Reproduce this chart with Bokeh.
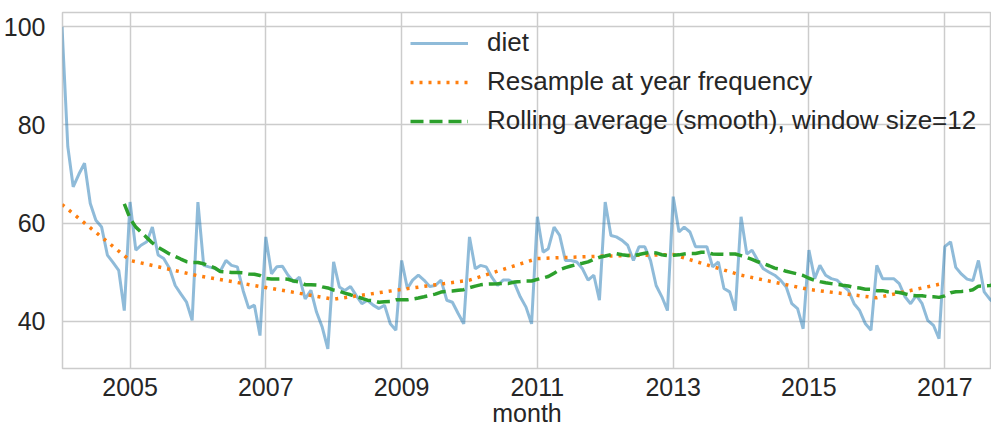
import pandas as pd
from bokeh.plotting import figure
from bokeh.models import Range1d, FixedTicker, DatetimeTickFormatter
from bokeh.embed import file_html
from bokeh.resources import INLINE

# ---- data (monthly Google Trends interest for "diet") ----
diet_2004 = [100, 75.6, 67.4, 70, 72.2, 64, 60.6, 59.2, 53.5, 52, 50.4, 42.2]
diet_2005 = [64.3, 54.5, 55.5, 56.2, 59.2, 53.5, 52.8, 50.8, 47.3, 45.6, 43.9, 40.2]
diet_2006 = [64.3, 51.4, 51.1, 50.8, 50.2, 52.4, 51.4, 51.1, 46.3, 42.7, 43.3, 37.1]
diet_2007 = [57.2, 49.7, 51.1, 51.2, 49.4, 48, 49, 44.6, 46.3, 41.9, 38.8, 34.4]
diet_2008 = [52.1, 47, 46.3, 47.1, 45.3, 43.6, 44.3, 43.3, 42.6, 43.3, 39.5, 38.2]
diet_2009 = [52.4, 46.7, 48.4, 49.4, 48.4, 47.1, 47.3, 48.4, 44.3, 43.9, 41.6, 39.5]
diet_2010 = [57.2, 50.7, 51.4, 51.1, 49, 47.3, 48.4, 48.4, 47.7, 45, 42.9, 39.5]
diet_2011 = [61.3, 54.1, 54.8, 59.2, 57.5, 52.4, 52.4, 52.1, 50.7, 48.4, 49.4, 44.3]
diet_2012 = [64.3, 57.5, 57.2, 56.5, 55.5, 52.4, 55.2, 55.2, 52.4, 47.3, 45, 42.2]
diet_2013 = [65.4, 58.2, 59.2, 58.2, 55.2, 55.2, 55.2, 51.1, 52.1, 46.7, 46, 42.2]
diet_2014 = [61.3, 53.7, 54.5, 52.4, 50.7, 50, 49.4, 48.4, 47, 43.6, 42.6, 38.5]
diet_2015 = [54.5, 48.7, 51.4, 49.4, 48.7, 48.4, 47.3, 46.3, 43.6, 42.2, 39.5, 38.2]
diet_2016 = [51.4, 48.7, 48.7, 48.7, 47.7, 45, 43.6, 45.3, 43.6, 40.2, 39.2, 36.5]
diet_2017 = [55.2, 56.2, 51, 49.6, 48.6, 48.3, 52.4, 46, 44.5, 43.5, 41.5, 38]

# yearly resample (year-start labels)
year_resample = [63.8, 52.4, 49.3, 46.9, 44.5, 46.5, 48.4, 52.8, 53.3, 53.6,
                 49.4, 46.5, 44.8, 47.8]

y_ticks = [40, 60, 80, 100]
x_tick_years = [2005, 2007, 2009, 2011, 2013, 2015, 2017]

diet = (diet_2004 + diet_2005 + diet_2006 + diet_2007 + diet_2008 + diet_2009 +
        diet_2010 + diet_2011 + diet_2012 + diet_2013 + diet_2014 + diet_2015 +
        diet_2016 + diet_2017)
months = pd.date_range("2004-01-01", periods=len(diet), freq="MS")
s = pd.Series(diet, index=months)
rolling = s.rolling(12).mean().dropna()
years = pd.date_range("2004-01-01", periods=len(year_resample), freq="YS")


def ms(d):
    return pd.Timestamp(d).value / 1e6


# x range: 2005-01-01 at px 132, 2017-01-01 at px 952 (page coords), frame 64..999
t0, t1 = ms("2005-01-01"), ms("2017-01-01")
ppm = (952 - 132) / (t1 - t0)
x_start = t0 + (64 - 132) / ppm
x_end = t0 + (999 - 132) / ppm

FONT = "Liberation Sans"
TXT = "#262626"
GRID = "#cccccc"

p = figure(width=991, height=431, x_axis_type="datetime",
           output_backend="svg", toolbar_location=None,
           x_range=Range1d(x_start, x_end), y_range=Range1d(30.4, 102.9),
           min_border_left=56, min_border_right=0, min_border_top=12,
           min_border_bottom=63)

p.background_fill_color = "white"
p.border_fill_color = "white"
p.outline_line_color = GRID
p.outline_line_width = 1.5

p.line(months, diet, line_color="#1f77b4", line_alpha=0.5, line_width=3,
       legend_label="diet")
p.line(years, year_resample, line_color="#ff7f0e", line_width=3.5,
       line_dash="3 6", legend_label="Resample at year frequency")
p.line(rolling.index, rolling.values, line_color="#2ca02c", line_width=3.5,
       line_dash="13 6", legend_label="Rolling average (smooth), window size=12")

p.xaxis.ticker = FixedTicker(ticks=[ms(f"{y}-01-01") for y in x_tick_years])
p.xaxis.formatter = DatetimeTickFormatter(years="%Y", months="%Y", days="%Y")
p.yaxis.ticker = FixedTicker(ticks=y_ticks)
p.xaxis.axis_label = "month"

for ax in (p.xaxis[0], p.yaxis[0]):
    ax.axis_line_color = None
    ax.major_tick_line_color = None
    ax.minor_tick_line_color = None
    ax.major_label_text_font = FONT
    ax.major_label_text_font_size = "25px"
    ax.major_label_text_color = TXT
    ax.axis_label_text_font = FONT
    ax.axis_label_text_font_size = "25px"
    ax.axis_label_text_font_style = "normal"
    ax.axis_label_text_color = TXT

p.yaxis.major_label_standoff = 11
p.xaxis.major_label_standoff = 3
p.xaxis.axis_label_standoff = 0

p.xgrid.grid_line_color = GRID
p.ygrid.grid_line_color = GRID
p.xgrid.grid_line_width = 1.5
p.ygrid.grid_line_width = 1.5

lg = p.legend[0]
lg.location = (348, 232)
lg.background_fill_alpha = 0
lg.border_line_alpha = 0
lg.padding = 0
lg.margin = 0
lg.spacing = 8
lg.glyph_width = 58
lg.glyph_height = 24
lg.label_height = 24
lg.label_standoff = 19
lg.label_text_font = FONT
lg.label_text_font_size = "26px"
lg.label_text_color = TXT

open("out.html", "w").write(file_html(p, INLINE))
